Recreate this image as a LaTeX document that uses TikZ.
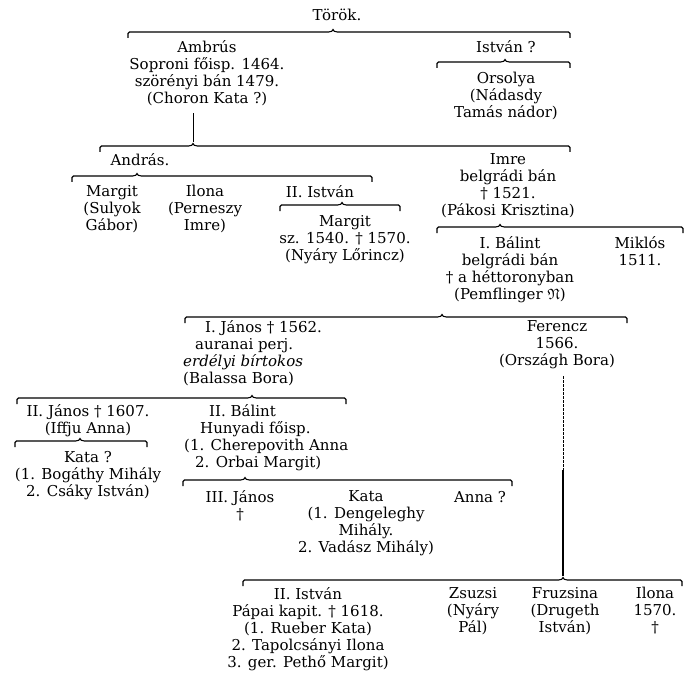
\documentclass[tikz,border=0pt]{standalone}
\usepackage{amssymb}
\usepackage{fontspec}
\setmainfont{DejaVu Serif}

% family bracket: y, left end, hump, right end, name of hump
\newcommand{\famline}[5]{%
  \draw[stem] (#2,#1+6) -- (#2,#1) -- (#3-6,#1) .. controls (#3-2,#1) and (#3,#1-1) .. (#3,#1-4)
    .. controls (#3,#1-1) and (#3+2,#1) .. (#3+6,#1) -- (#4,#1) -- (#4,#1+6);
  \coordinate (#5) at (#3,#1-4);}

\begin{document}
\begin{tikzpicture}[
    x=1pt, y=-1pt,
    person/.style={align=center, inner sep=0pt, anchor=north, font=\fontsize{15}{17}\selectfont,
      execute at begin node=\strut},
    lperson/.style={person, align=left, anchor=north west},
    stem/.style={line width=1.1pt, rounded corners=1.5pt}
]
\useasboundingbox (0,0) rectangle (699,690);

% Nodes
\node[person] (torok) at (337,8) {Török.};
\node[person] (ambrus) at (207,40) {Ambrús\\Soproni főisp. 1464.\\szörényi bán 1479.\\(Choron Kata~?)};
\node[person] (istvan) at (506,40) {István~?};
\node[person] (orsolya) at (506,72) {Orsolya\\(Nádasdy\\Tamás nádor)};

\node[person] (andras) at (140,153) {András.};
\node[person] (imre) at (508,153) {Imre\\belgrádi bán\\† 1521.\\(Pákosi Krisztina)};

\node[person] (margit) at (112,185) {Margit\\(Sulyok\\Gábor)};
\node[person] (ilona) at (205,185) {Ilona\\(Perneszy\\Imre)};
\node[person] (istvanII) at (320,185) {II. István};
\node[person] (margitII) at (345,215) {Margit\\sz. 1540. † 1570.\\(Nyáry Lőrincz)};

\node[person] (balint) at (510,236) {I. Bálint\\belgrádi bán\\† a héttoronyban\\(Pemflinger $\mathfrak{N}$)};
\node[person] (miklos) at (640,236) {Miklós\\1511.};

\node[lperson] (janos) at (183,320) {\hspace*{22pt}I. János † 1562.\\\hspace*{12pt}auranai perj.\\\textit{erdélyi bírtokos}\\(Balassa Bora)};
\node[person] (ferencz) at (557,320) {Ferencz\\1566.\\(Országh Bora)};

\node[person] (janosII) at (88,404) {II. János † 1607.\\(Iffju Anna)};
\node[lperson] (balintII) at (184,404) {\hspace*{25pt}II. Bálint\\\hspace*{16pt}Hunyadi főisp.\\(1. Cherepovith Anna\\\hspace*{11pt}2. Orbai Margit)};
\node[person] (kata) at (88,451) {Kata~?\\(1. Bogáthy Mihály\\2. Csáky István)};

\node[person] (janosIII) at (240,490) {III. János\\†};
\node[person] (kataII) at (366,490) {Kata\\(1. Dengeleghy\\Mihály.\\2. Vadász Mihály)};
\node[person] (anna) at (480,490) {Anna~?};

\node[person] (istvanIII) at (308,587) {II. István\\Pápai kapit. † 1618.\\(1. Rueber Kata)\\2. Tapolcsányi Ilona\\3. ger. Pethő Margit)};
\node[person] (zsuzsi) at (473,587) {Zsuzsi\\(Nyáry\\Pál)};
\node[person] (fruzsina) at (565,587) {Fruzsina\\(Drugeth\\István)};
\node[person] (ilonaII) at (655,587) {Ilona\\1570.\\†};

% Lines
\famline{32}{128}{333}{570}{k-torok}
\famline{62}{437}{505}{570}{k-istvan}
\famline{146}{100}{193}{570}{k-ambrus}
\famline{176}{72}{137}{372}{k-andras}
\famline{205}{280}{342}{400}{k-istvanII}
\famline{227}{437}{500}{683}{k-imre}
\famline{317}{185}{442}{627}{k-balint}
\famline{398}{17}{252}{346}{k-janos}
\famline{441}{15}{80}{147}{k-janosII}
\famline{480}{183}{245}{512}{k-balintII}
\famline{580}{243}{563}{682}{k-ferencz}

\coordinate (f-mid) at (563,470);
\draw[line width=0.7pt] (k-ambrus |- ambrus.south) ++(0,5) -- (k-ambrus);
\draw[line width=0.5pt, dash pattern=on 3pt off 1pt] (k-ferencz |- ferencz.south) ++(0,6) -- (f-mid);
\draw[stem] (f-mid) -- (k-ferencz);

\end{tikzpicture}
\end{document}
